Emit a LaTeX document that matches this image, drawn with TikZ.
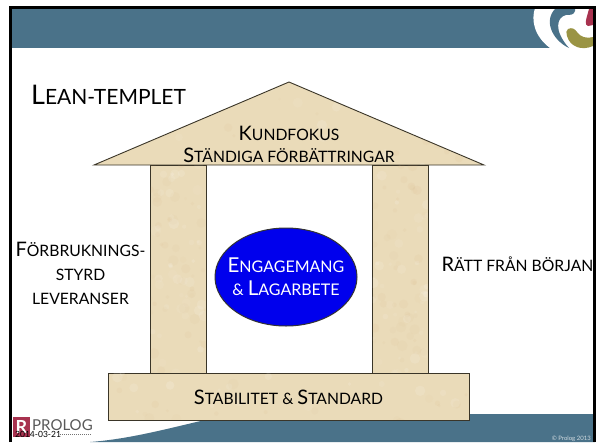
\documentclass[tikz,border=0pt]{standalone}
\usepackage{fontspec}
\usetikzlibrary{shapes.geometric}
\setmainfont{Lato}
\definecolor{band}{HTML}{4A7289}
\definecolor{stone}{HTML}{EADBB9}
\definecolor{stoneedge}{HTML}{3A3528}
\definecolor{maroon}{HTML}{A8324F}
\definecolor{olive}{HTML}{9A9444}
% small capitals built by hand: capital, then upper case at a smaller size
\newcommand{\tallcap}[1]{{\fontsize{20}{22}\selectfont #1}}
\newcommand{\lowcap}[1]{{\fontsize{15.7}{22}\selectfont #1}}
\newcommand{\scw}[2]{\tallcap{#1}\lowcap{#2}}
\tikzset{
  stoneshape/.style={fill=stone,draw=stoneedge,line width=0.9pt,line join=miter},
  caption/.style={font=\fontsize{15.7}{22}\selectfont,align=center,text=black,inner sep=0pt},
}
\newcommand{\mottle}[4]{%
  \begin{scope}
  \clip #1;
  \foreach \n in {1,...,#4}{
    \pgfmathsetmacro{\px}{#2+rnd*(#3)}
    \pgfmathsetmacro{\py}{80+rnd*345}
    \pgfmathsetmacro{\pr}{1.5+rnd*4}
    \pgfmathsetmacro{\po}{0.05+rnd*0.10}
    \ifodd\n
      \fill[white,opacity=\po] (\px,\py) circle[radius=\pr pt];
    \else
      \fill[brown!60!stone,opacity=\po*0.5] (\px,\py) circle[radius=\pr pt];
    \fi
  }
  \end{scope}}
\begin{document}
\begin{tikzpicture}[x=1pt,y=-1pt]
\pgfmathsetseed{4242}
\useasboundingbox (0,0) rectangle (600,442);
\fill[white] (0,0) rectangle (600,442);
% header band
\fill[band] (11,8) rectangle (595,48);
% logo
\fill[white] (535,8) .. controls (531,20) and (534,36) .. (550,48) -- (595,48) -- (595,8) -- cycle;
\fill[band] (556,8) -- (575,8) -- (575,11) .. controls (574,15) and (570,15) .. (566,15)
  .. controls (557,17) and (553,30) .. (569,48) .. controls (552,40) and (543,20) .. (556,8) -- cycle;
\fill[maroon] (589,9) -- (593,9) -- (593,25) -- (588,26) .. controls (584,25) and (586,20) .. (589,9) -- cycle;
\fill[olive] (568,29) .. controls (572,27) and (575,29) .. (577,32)
  .. controls (580,37) and (587,39) .. (593,37) -- (593,46) .. controls (582,51) and (570,47) .. (567,36)
  .. controls (566,33) and (566,30) .. (568,29) -- cycle;
% footer wave
\fill[band] (90,442) .. controls (130,439) and (170,428) .. (205,420) -- (470,414) -- (595,414) -- (595,442) -- cycle;
% frame
\draw[black,line width=3pt] (10.5,442) -- (10.5,7.5) -- (594.5,7.5) -- (594.5,442);
% temple
\path[stoneshape] (289,82) -- (484,165) -- (94,165) -- cycle;
\path[stoneshape] (150,165) rectangle (206,373);
\path[stoneshape] (372,165) rectangle (428,373);
\path[stoneshape] (108,373) rectangle (469,420);
\mottle{(289,83) -- (482,164.5) -- (96,164.5) -- cycle}{96}{386}{260}
\mottle{(150.5,165.5) rectangle (205.5,372.5)}{150}{56}{130}
\mottle{(372.5,165.5) rectangle (427.5,372.5)}{372}{56}{130}
\mottle{(108.5,373.5) rectangle (468.5,419.5)}{108}{361}{260}
\draw[stoneedge,line width=1.4pt] (469.5,373) -- (469.5,420.5) -- (108,420.5);
% labels
\node[caption,anchor=west,font=\fontsize{21}{28}\selectfont] (title) at (31,95)
  {{\fontsize{27}{28}\selectfont L}EAN-TEMPLET};
\node[caption] (roof) at (289,144.5) {\scw{K}{UNDFOKUS}\\[0.5pt]\scw{S}{TÄNDIGA FÖRBÄTTRINGAR}};
\node[caption] (left) at (80.5,273) {\scw{F}{ÖRBRUKNINGS-}\\[2pt]\lowcap{STYRD}\\[2pt]\lowcap{LEVERANSER}};
\node[caption] (right) at (517.5,264) {\scw{R}{ÄTT FRÅN BÖRJAN}};
\node[caption] (bottom) at (288.5,397) {\scw{S}{TABILITET \& }\scw{S}{TANDARD}};
\node[ellipse,minimum width=142pt,minimum height=98pt,inner sep=0pt,fill=blue!93!black,draw=black!80,line width=1pt] (core) at (286,277) {};
\node[inner sep=0pt,font=\fontsize{16}{23}\selectfont,text=white,align=center] (coretext) at (core.center)
  {{\fontsize{20.5}{23}\selectfont E}NGAGEMANG\\\& {\fontsize{20.5}{23}\selectfont L}AGARBETE};
% footer
\fill[maroon] (13,417) rectangle (30,437);
\node[font=\bfseries\fontsize{18}{18}\selectfont,text=white,inner sep=0pt] (logoR) at (21.5,427) {R};
\node[font=\fontsize{15}{15}\selectfont,text=black!65,anchor=west,inner sep=0pt] (logotext) at (32,425.5) {PROLOG};
\node[font=\fontsize{8.5}{8.5}\selectfont,text=black,anchor=west,inner sep=0pt] (date) at (15,434.5) {2014-03-21};
\draw[black!55,line width=0.8pt,dash pattern=on 1pt off 1pt] (60,434.5) -- (91,434.5);
\node[font=\fontsize{6}{6}\selectfont,text=white!75!band,anchor=east,inner sep=0pt] (copy) at (591,439) {© Prolog 2013};
\end{tikzpicture}
\end{document}
